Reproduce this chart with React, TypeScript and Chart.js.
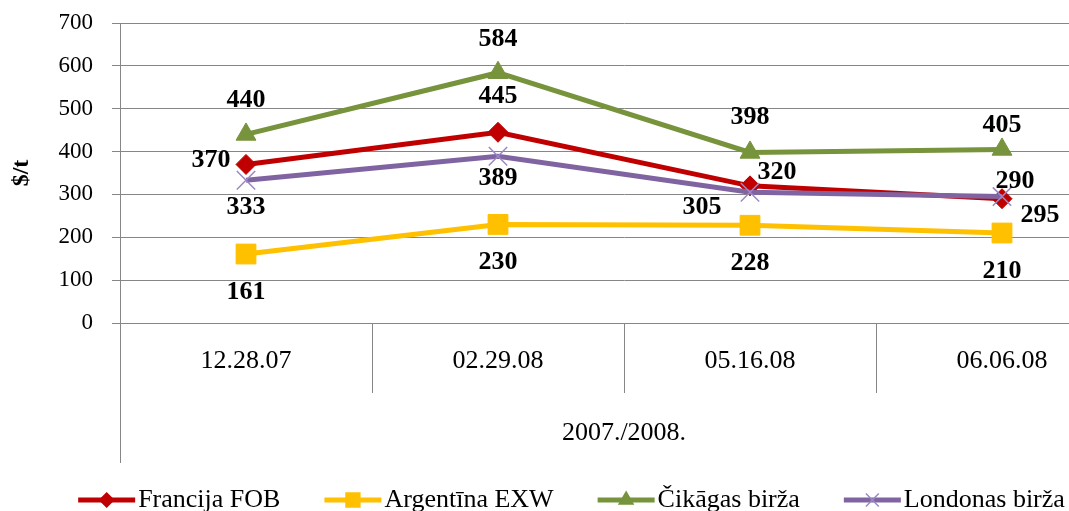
import React, { useEffect, useRef } from 'react';
import { Chart, registerables } from 'chart.js';
import { drawPoint } from 'chart.js/helpers';

Chart.register(...registerables);

// ---------- data ----------
const categories = ['12.28.07', '02.29.08', '05.16.08', '06.06.08'];
const groupLabel = '2007./2008.';
const seriesNames = ['Francija FOB', 'Argentīna EXW', 'Čikāgas birža', 'Londonas birža'];
const francijaFOB = [370, 445, 320, 290];
const argentinaEXW = [161, 230, 228, 210];
const cikagasBirza = [440, 584, 398, 405];
const londonasBirza = [333, 389, 305, 295];
const yMin = 0;
const yMax = 700;
const yStep = 100;
const yTitle = '$/t';

// ---------- style ----------
const FONT = '"Liberation Serif", "Times New Roman", serif';
const lineColors = ['#C00000', '#FFC000', '#77933C', '#8064A2'];
const markerColors = ['#C00000', '#FFC000', '#77933C', '#9C88C4'];
const markerStyles = ['rectRot', 'rect', 'triangle', 'crossRot'];
const markerRadius = [10, 14, 11.5, 13];
const drawOrder = [3, 2, 1, 0];
// data-label offsets (dx, dy) from each point
const labelOffsets = [
  [[-35, -4], [0, -36], [27, -14], [13, -17]],
  [[0, 38], [0, 38], [0, 38], [0, 38]],
  [[0, -34], [0, -33], [0, -35], [0, -24]],
  [[0, 27], [0, 22], [-48, 15], [38, 19]],
];
const gridColor = '#868686';

const customPlugin = {
  id: 'customDecor',
  afterDatasetsDraw(chart: any) {
    const ctx = chart.ctx;
    ctx.save();
    ctx.font = `bold 26px ${FONT}`;
    ctx.fillStyle = '#000';
    ctx.textAlign = 'center';
    ctx.textBaseline = 'middle';
    chart.data.datasets.forEach((ds: any, i: number) => {
      const meta = chart.getDatasetMeta(i);
      meta.data.forEach((pt: any, j: number) => {
        const [dx, dy] = labelOffsets[i][j];
        ctx.fillText(String(ds.data[j]), pt.x + dx, pt.y + dy);
      });
    });
    ctx.restore();
  },
  afterDraw(chart: any) {
    const ctx = chart.ctx;
    const area = chart.chartArea;
    const xs = chart.scales.x;
    ctx.save();
    ctx.strokeStyle = gridColor;
    ctx.lineWidth = 1;
    // category separators (first level)
    ctx.beginPath();
    for (let i = 1; i < categories.length; i++) {
      const x = Math.round((xs.getPixelForValue(i - 1) + xs.getPixelForValue(i)) / 2) + 0.5;
      ctx.moveTo(x, area.bottom);
      ctx.lineTo(x, area.bottom + 70);
    }
    // outer group box edges
    const lx = Math.round(area.left) + 0.5;
    ctx.moveTo(lx, area.bottom);
    ctx.lineTo(lx, area.bottom + 140);
    const rx = Math.round(area.right) - 0.5;
    ctx.moveTo(rx, area.bottom);
    ctx.lineTo(rx, area.bottom + 140);
    ctx.stroke();

    // legend samples: line + marker
    const legend = chart.legend;
    if (legend && legend.legendHitBoxes) {
      legend.legendHitBoxes.forEach((hb: any, k: number) => {
        const item = legend.legendItems[k];
        const di = item.datasetIndex;
        const y = hb.top + hb.height / 2;
        ctx.strokeStyle = lineColors[di];
        ctx.lineWidth = 5;
        ctx.beginPath();
        ctx.moveTo(hb.left, y);
        ctx.lineTo(hb.left + 57, y);
        ctx.stroke();
        ctx.fillStyle = markerColors[di];
        ctx.strokeStyle = markerColors[di];
        ctx.lineWidth = 1.5;
        drawPoint(ctx, { pointStyle: markerStyles[di], radius: markerRadius[di] * 0.7, rotation: 0, borderWidth: 1.5 }, hb.left + 28.5, y);
      });
    }
    ctx.restore();
  },
};

export default function App() {
  const ref = useRef<HTMLCanvasElement | null>(null);

  useEffect(() => {
    if (!ref.current) return;
    const series = [francijaFOB, argentinaEXW, cikagasBirza, londonasBirza];
    const chart = new Chart(ref.current, {
      type: 'line',
      data: {
        labels: categories,
        datasets: series.map((d, i) => ({
          label: seriesNames[i],
          data: d,
          order: drawOrder[i],
          borderColor: lineColors[i],
          backgroundColor: markerColors[i],
          borderWidth: 5,
          tension: 0,
          pointStyle: markerStyles[i] as any,
          pointRadius: markerRadius[i],
          pointBackgroundColor: markerColors[i],
          pointBorderColor: markerColors[i],
          pointBorderWidth: i === 3 ? 1.5 : 1,
        })),
      },
      options: {
        animation: false,
        responsive: false,
        devicePixelRatio: 1,
        events: [],
        layout: { padding: { left: 7, right: 7, top: 23, bottom: 0 } },
        scales: {
          x: {
            type: 'category',
            offset: true,
            grid: { display: false, drawTicks: false },
            border: { display: true, color: gridColor, width: 1 },
            ticks: {
              color: '#000',
              font: { family: FONT, size: 26 },
              padding: 23,
              maxRotation: 0,
              autoSkip: false,
            },
            title: {
              display: true,
              text: groupLabel,
              color: '#000',
              font: { family: FONT, size: 26 },
              padding: { top: 0, bottom: -6 },
            },
            afterFit: (scale: any) => {
              scale.height = 120;
            },
          },
          y: {
            min: yMin,
            max: yMax,
            ticks: {
              stepSize: yStep,
              color: '#000',
              font: { family: FONT, size: 23 },
              padding: 19,
            },
            grid: { color: gridColor, lineWidth: 1, tickLength: 8, drawTicks: true },
            border: { display: true, color: gridColor, width: 1 },
            title: {
              display: true,
              text: yTitle,
              color: '#000',
              font: { family: FONT, size: 24, weight: 'bold' },
              padding: 0,
            },
            afterFit: (scale: any) => {
              scale.width = 113;
              scale.paddingTop = 0;
              scale.paddingBottom = 0;
            },
          },
        },
        plugins: {
          tooltip: { enabled: false },
          legend: {
            position: 'bottom',
            labels: {
              color: '#000',
              font: { family: FONT, size: 26 },
              boxWidth: 47,
              boxHeight: 5,
              padding: 44,
              sort: (a: any, b: any) => a.datasetIndex - b.datasetIndex,
              generateLabels: (c: any) =>
                Chart.defaults.plugins.legend.labels.generateLabels(c).map((it: any) => ({
                  ...it,
                  fillStyle: 'rgba(0,0,0,0)',
                  strokeStyle: 'rgba(0,0,0,0)',
                  lineWidth: 0,
                })),
            },
          },
        },
      },
      plugins: [customPlugin],
    });
    return () => chart.destroy();
  }, []);

  return (
    <div
      style={{
        position: 'fixed',
        left: 0,
        top: 0,
        width: 1069,
        height: 511,
        overflow: 'hidden',
        background: '#fff',
      }}
    >
      <canvas ref={ref} width={1143} height={523} style={{ display: 'block', width: 1143, height: 523 }} />
    </div>
  );
}
